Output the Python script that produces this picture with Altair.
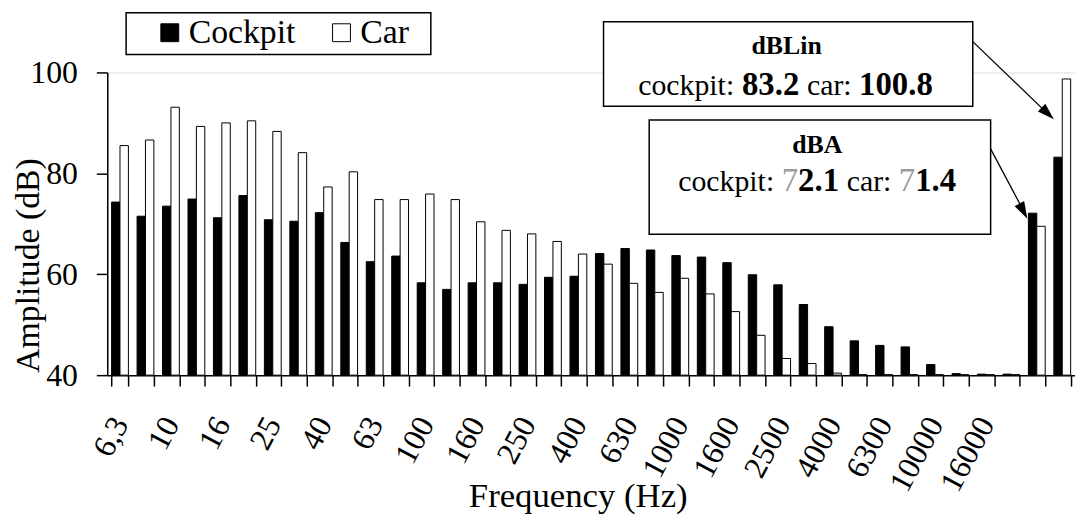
import json
import altair as alt
import pandas as pd

# ---- data ----
categories = ["6,3", "8", "10", "12,5", "16", "20", "25", "31,5", "40", "50",
              "63", "80", "100", "125", "160", "200", "250", "315", "400", "500",
              "630", "800", "1000", "1250", "1600", "2000", "2500", "3150", "4000", "5000",
              "6300", "8000", "10000", "12500", "16000", "20000", "dBA", "dBLin"]
cockpit = [74.3, 71.5, 73.5, 74.9, 71.2, 75.6, 70.8, 70.5, 72.2, 66.3,
           62.5, 63.6, 58.3, 57.0, 58.3, 58.3, 58.0, 59.4, 59.6, 64.1,
           65.1, 64.8, 63.7, 63.4, 62.3, 59.9, 57.9, 54.0, 49.6, 46.8,
           45.9, 45.6, 42.1, 40.3, 40.2, 40.2, 72.1, 83.2]
car = [85.5, 86.6, 93.1, 89.3, 90.0, 90.4, 88.3, 84.1, 77.3, 80.3,
       74.8, 74.8, 75.9, 74.8, 70.4, 68.7, 68.0, 66.5, 64.0, 62.0,
       58.2, 56.4, 59.2, 56.1, 52.6, 47.9, 43.3, 42.3, 40.4, 40.1,
       40.1, 40.1, 40.1, 40.1, 40.1, 40.1, 69.5, 98.7]
series = ["Cockpit", "Car"]
tick_labels = ["6,3", "10", "16", "25", "40", "63", "100", "160", "250", "400",
               "630", "1000", "1600", "2500", "4000", "6300", "10000", "16000"]
y_ticks = [40, 60, 80, 100]
y_min, y_max = 40, 100

rows = []
for c, a, b in zip(categories, cockpit, car):
    rows.append({"band": c, "series": series[0], "value": a})
    rows.append({"band": c, "series": series[1], "value": b})
df = pd.DataFrame(rows)
one = pd.DataFrame({"k": [0]})

FONT = "Liberation Serif, Times New Roman, serif"
W, H = 975, 305

label_expr = "indexof(" + json.dumps(tick_labels) + ", datum.value) >= 0 ? datum.value : ''"

bars = alt.Chart(df).mark_bar(stroke="black", strokeWidth=1).encode(
    x=alt.X("band:N", sort=categories,
            scale=alt.Scale(paddingInner=0.34, paddingOuter=0.17),
            axis=alt.Axis(title="Frequency (Hz)", labelExpr=label_expr,
                          tickBand="extent", tickSize=11, tickWidth=1.5, tickColor="black",
                          domainColor="black", domainWidth=1.5,
                          labelAngle=-62, labelAlign="right", labelBaseline="middle",
                          labelPadding=33, labelFont=FONT, labelFontSize=32,
                          labelColor="black", labelOverlap=False,
                          titleFont=FONT, titleFontSize=35, titleFontWeight="normal",
                          titleColor="black", titleX=474, titleY=132,
                          titleAlign="center", titleBaseline="alphabetic")),
    xOffset=alt.XOffset("series:N", sort=series,
                        scale=alt.Scale(paddingInner=0, paddingOuter=0)),
    y=alt.Y("value:Q", scale=alt.Scale(domain=[y_min, y_max], zero=False, nice=False),
            axis=alt.Axis(title="Amplitude (dB)", values=y_ticks, grid=False,
                          tickSize=11, tickWidth=1.5, tickColor="black",
                          domainColor="black", domainWidth=1.5,
                          labelFont=FONT, labelFontSize=32, labelColor="black",
                          labelPadding=19,
                          titleFont=FONT, titleFontSize=34, titleFontWeight="normal",
                          titleColor="black", titleX=-79, titleY=194,
                          titleAlign="center", titleBaseline="middle")),
    y2=alt.datum(y_min),
    fill=alt.Fill("series:N", sort=series,
                  scale=alt.Scale(domain=series, range=["black", "white"]),
                  legend=alt.Legend(title=None, orient="none", legendX=46, legendY=-57,
                                    direction="horizontal", symbolType="square",
                                    symbolSize=324, symbolStrokeColor="black",
                                    symbolStrokeWidth=1, labelFont=FONT,
                                    labelFontSize=34, labelColor="black",
                                    labelOffset=2, columnPadding=29, padding=0,
                                    labelLimit=400)),
)


def box(x, x2, y, y2, fill_op=1.0):
    return alt.Chart(one).mark_rect(fill="white", fillOpacity=fill_op, stroke="black",
                                    strokeWidth=1.5).encode(
        x=alt.value(x), x2=alt.value(x2), y=alt.value(y), y2=alt.value(y2))


def line(x, y, x2, y2):
    return alt.Chart(one).mark_rule(color="black", strokeWidth=1.3).encode(
        x=alt.value(x), y=alt.value(y), x2=alt.value(x2), y2=alt.value(y2))


def head(x, y, ang):
    return alt.Chart(one).mark_point(shape="M0,0L-0.6,1.9L0.6,1.9Z", filled=True,
                                     fill="black", opacity=1, size=324, angle=ang,
                                     strokeWidth=0).encode(x=alt.value(x), y=alt.value(y))


def txt(s, x, y, size, bold=False, color="black", align="left"):
    return alt.Chart(one).mark_text(text=s, font=FONT, fontSize=size,
                                    fontWeight="bold" if bold else "normal",
                                    color=color, align=align,
                                    baseline="alphabetic").encode(
        x=alt.value(x), y=alt.value(y))


layers = [
    bars,
    box(19, 326, -60, -18, fill_op=0),
    box(500, 872, -51, 34),
    box(546, 890, 48, 163),
    line(872, -31, 950, 44),
    head(953.7, 47.3, 133.8),
    line(890, 77, 925, 143),
    head(927, 147.3, 152.1),
    txt("dBLin", 684.5, -18.7, 26, bold=True, align="center"),
    txt("cockpit:", 535, 23, 30),
    txt("83.2", 639.5, 23, 33, bold=True),
    txt("car:", 705, 23, 30),
    txt("100.8", 757.5, 23, 33, bold=True),
    txt("dBA", 715.3, 81, 26, bold=True, align="center"),
    txt("cockpit:", 575.3, 119, 30),
    txt("7", 679.5, 119, 33, color="#9a9a9a"),
    txt("2.1", 696, 119, 33, bold=True),
    txt("car:", 745, 119, 30),
    txt("7", 797.5, 119, 33, color="#9a9a9a"),
    txt("1.4", 814, 119, 33, bold=True),
]

chart = alt.layer(*layers).properties(
    width=W, height=H,
    autosize=alt.AutoSizeParams(type="none"),
    padding={"left": 100, "top": 63, "right": 0, "bottom": 140},
    background="white",
).configure_view(stroke=None).configure(font=FONT)

chart.save("out.html", embed_options={"renderer": "svg", "actions": False})
